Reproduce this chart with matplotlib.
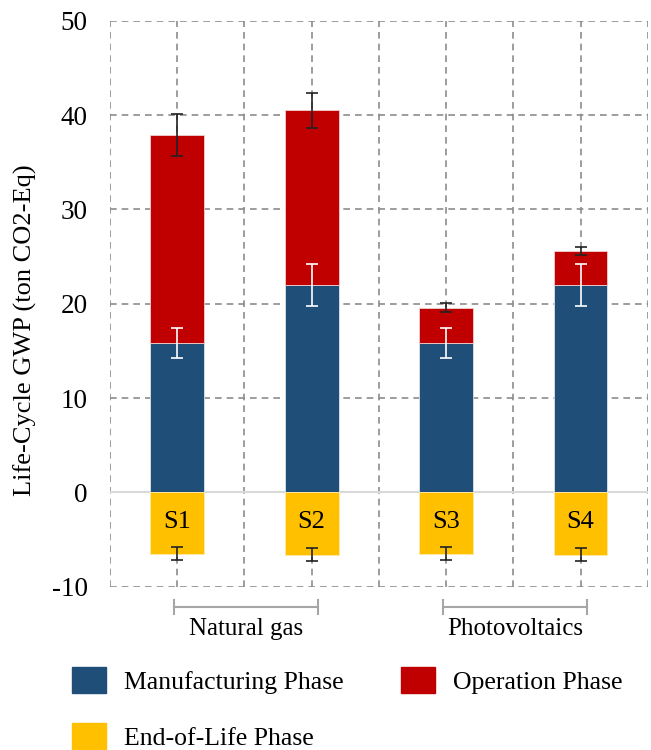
import numpy as np
import matplotlib
matplotlib.use("Agg")
import matplotlib.pyplot as plt
from matplotlib.patches import Patch
from matplotlib.transforms import blended_transform_factory

plt.rcParams["font.family"] = ["Liberation Serif", "DejaVu Serif"]
plt.rcParams["axes.unicode_minus"] = False

# data (ton CO2-Eq)
scenarios = ["S1", "S2", "S3", "S4"]
manufacturing = [15.8, 22.0, 15.8, 22.0]
operation = [22.1, 18.5, 3.8, 3.6]
end_of_life = [-6.5, -6.6, -6.5, -6.6]
err_manufacturing = [1.6, 2.2, 1.6, 2.2]
err_total = [2.2, 1.85, 0.45, 0.4]
err_eol = [0.7, 0.7, 0.7, 0.7]
groups = ["Natural gas", "Photovoltaics"]
group_span = [(0.95, 3.1), (4.95, 7.1)]

BLUE = "#1F4E79"
RED = "#C00000"
YELLOW = "#FFC000"
GRID = "#8c8c8c"

x = np.array([1, 3, 5, 7])
manu = np.array(manufacturing)
oper = np.array(operation)
eol = np.array(end_of_life)
total = manu + oper

fig = plt.figure(figsize=(6.51, 7.5), dpi=100)
ax = fig.add_axes([0.169, 0.2177, 0.826, 0.7546])

# grid
for gx in range(0, 9):
    ax.axvline(gx, color=GRID, ls=(0, (4, 3)), lw=1.2, zorder=0)
for gy in range(-10, 51, 10):
    if gy != 0:
        ax.axhline(gy, color=GRID, ls=(0, (4, 3)), lw=1.2, zorder=0)
ax.axhline(0, color="#d9d9d9", lw=1.5, zorder=1)

w = 0.8
ax.bar(x, manu, w, color=BLUE, edgecolor="#dde3ea", lw=0.6, zorder=3)
ax.bar(x, oper, w, bottom=manu, color=RED, edgecolor="#f0d0d0", lw=0.6, zorder=3)
ax.bar(x, eol, w, color=YELLOW, edgecolor="#ffe9a8", lw=0.6, zorder=3)

ax.errorbar(x, total, yerr=err_total, fmt="none", ecolor="#222222",
            elinewidth=1.2, capsize=4, capthick=1.2, zorder=4)
ax.errorbar(x, manu, yerr=err_manufacturing, fmt="none", ecolor="white",
            elinewidth=1.2, capsize=4, capthick=1.2, zorder=4)
ax.errorbar(x, eol, yerr=err_eol, fmt="none", ecolor="#222222",
            elinewidth=1.2, capsize=4, capthick=1.2, zorder=4)

for xi, s in zip(x, scenarios):
    ax.text(xi, -3.1, s, ha="center", va="center", fontsize=19, zorder=5)

ax.set_xlim(0, 8)
ax.set_ylim(-10, 50)
ax.set_yticks(range(-10, 51, 10))
ax.set_xticks([])
ax.tick_params(axis="y", length=0, labelsize=19.5, pad=16)
for sp in ax.spines.values():
    sp.set_visible(False)
fig.text(25 / 651, 1 - 330 / 750, "Life-Cycle GWP (ton CO2-Eq)", rotation=90,
         ha="center", va="center", fontsize=19)

# group brackets below the axis
tr = blended_transform_factory(ax.transData, ax.transAxes)
for name, (x0, x1) in zip(groups, group_span):
    ax.plot([x0, x1], [-0.036, -0.036], color="#a6a6a6", lw=1.5,
            transform=tr, clip_on=False)
    for xe in (x0, x1):
        ax.plot([xe, xe], [-0.024, -0.048], color="#a6a6a6", lw=1.5,
                transform=tr, clip_on=False)
    ax.text((x0 + x1) / 2, -0.075, name, transform=tr, ha="center",
            va="center", fontsize=18)

handles = [Patch(color=BLUE, label="Manufacturing Phase"),
           Patch(color=YELLOW, label="End-of-Life Phase"),
           Patch(color=RED, label="Operation Phase")]
fig.legend(handles=handles, loc="upper left", bbox_to_anchor=(0.1106, 0.1107),
           ncol=2, frameon=False, fontsize=18.5, handlelength=1.32,
           handleheight=1.17, handletextpad=0.7, labelspacing=1.15,
           columnspacing=2.25, borderaxespad=0, borderpad=0)

fig.savefig("out.png", dpi=100)
